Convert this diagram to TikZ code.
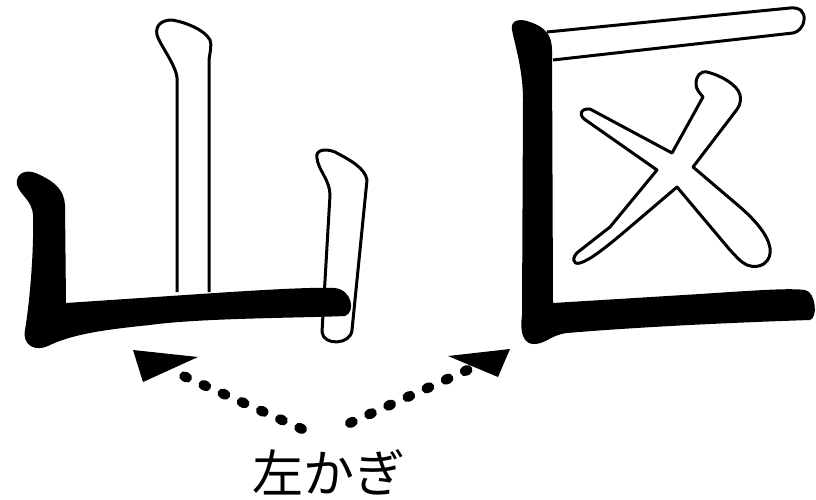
\documentclass[tikz,border=0pt]{standalone}
\usepackage{fontspec}
\newfontfamily\cjk{Noto Sans CJK JP}
\tikzset{
  inkstroke/.style={fill=black, draw=none},
  hollowstroke/.style={draw=black, line width=3pt, fill=white, line join=round},
  hollowline/.style={draw=black, line width=3pt, line join=round},
  dotline/.style={line width=10pt, line cap=round, dash pattern=on 3pt off 18pt},
  headfill/.style={fill=black, draw=none},
  labeltext/.style={font=\cjk\fontsize{51pt}{54pt}\selectfont, inner sep=0pt}
}
\begin{document}
\begin{tikzpicture}[x=1pt,y=-1pt]
\useasboundingbox (0,0) rectangle (816,499);
% ---------- 山 ----------
\path[hollowstroke] (177,292) -- (177,78) .. controls (176,65) and (160,45) .. (157,35)
  .. controls (155,25) and (162,20) .. (172,20) .. controls (185,22) and (205,30) .. (210,40)
  .. controls (212,45) and (210,52) .. (209,60) -- (209,292);
\path[fill=white] (317,158) .. controls (315,150) and (325,148) .. (335,152)
  .. controls (350,160) and (365,168) .. (367,180) -- (352,330)
  .. controls (351,345) and (323,346) .. (322,332) -- (330,195)
  .. controls (330,180) and (318,170) .. (317,158) -- cycle;
\path[inkstroke] (17,185) .. controls (15,172) and (28,168) .. (40,175)
  .. controls (55,182) and (64,190) .. (65,205) -- (66,303)
  -- (200,294) .. controls (260,290) and (310,287) .. (335,288)
  .. controls (352,290) and (356,312) .. (345,316)
  .. controls (300,318) and (200,318) .. (150,325)
  .. controls (100,330) and (70,335) .. (48,346)
  .. controls (35,352) and (22,345) .. (25,330)
  .. controls (30,300) and (34,250) .. (33,215)
  .. controls (32,200) and (20,195) .. (17,185) -- cycle;
\path[hollowline] (317,158) .. controls (315,150) and (325,148) .. (335,152)
  .. controls (350,160) and (365,168) .. (367,180) -- (352,330)
  .. controls (351,345) and (323,346) .. (322,332) -- (330,195)
  .. controls (330,180) and (318,170) .. (317,158) -- cycle;
% ---------- 区 ----------
\path[hollowstroke] (547,32) -- (790,8) .. controls (800,7) and (805,12) .. (804,20)
  .. controls (803,28) and (798,32) .. (793,33) -- (553,60);
\path[inkstroke] (512,30) .. controls (510,20) and (520,18) .. (530,22)
  .. controls (545,27) and (552,35) .. (552,50) -- (553,303)
  -- (700,294) .. controls (760,290) and (790,288) .. (805,290)
  .. controls (816,292) and (818,318) .. (810,320)
  .. controls (750,322) and (650,326) .. (567,333)
  .. controls (550,335) and (545,345) .. (532,344)
  .. controls (522,342) and (520,330) .. (522,315) -- (523,100)
  .. controls (523,70) and (515,45) .. (512,30) -- cycle;
\path[hollowstroke] (707,72) .. controls (720,75) and (738,85) .. (740,95)
  .. controls (742,103) and (738,108) .. (735,112) -- (693,167) -- (740,207)
  .. controls (755,220) and (768,235) .. (770,248)
  .. controls (772,262) and (760,270) .. (747,265)
  .. controls (740,262) and (735,255) .. (730,250) -- (677,187) -- (623,233)
  .. controls (605,248) and (590,260) .. (580,263)
  .. controls (572,265) and (572,257) .. (578,252) -- (610,227) -- (657,170)
  -- (587,121) .. controls (578,116) and (580,108) .. (590,109) -- (672,153)
  -- (703,97) .. controls (700,93) and (696,90) .. (696,84)
  .. controls (696,76) and (700,71) .. (707,72) -- cycle;
% ---------- label and arrows ----------
\node[labeltext] (lbl) at (329,472) {左かぎ};
\coordinate (ls) at (302,429);
\coordinate (lb) at (170,370);
\coordinate (lt) at (133,350);
\coordinate (la) at (198,357);
\coordinate (lc) at (143,382);
\coordinate (rs) at (350,423);
\coordinate (rb) at (474,367);
\coordinate (rt) at (510,349);
\coordinate (ra) at (448,356);
\coordinate (rc) at (498,377);
\draw[dotline] (ls) -- (lb);
\draw[dotline] (rs) -- (rb);
\path[headfill] (lt) -- (la) -- (lc) -- cycle;
\path[headfill] (rt) -- (ra) -- (rc) -- cycle;
\end{tikzpicture}
\end{document}
